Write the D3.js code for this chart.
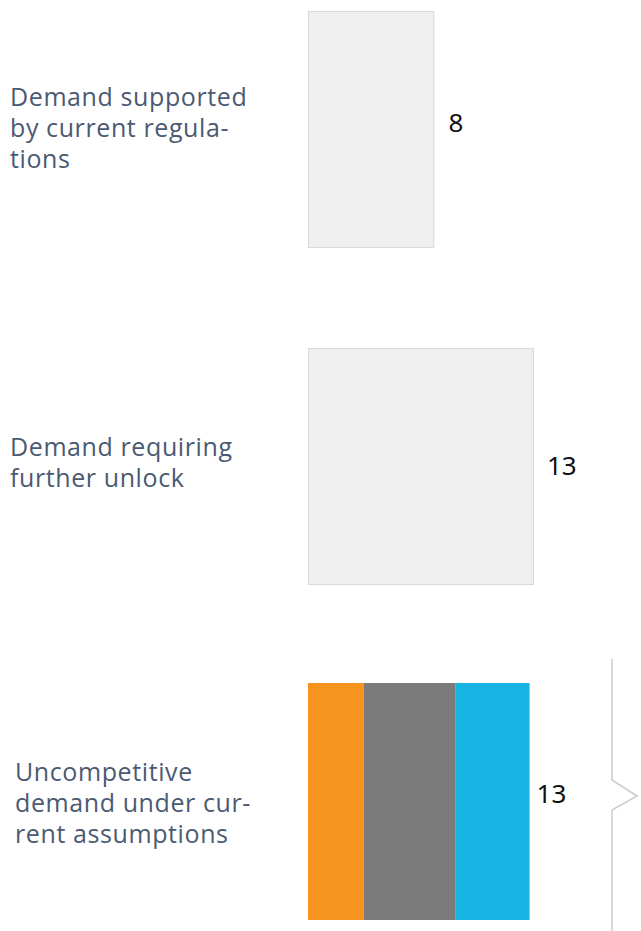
<!DOCTYPE html>
<html>
<head>
<meta charset="utf-8">
<script src="https://cdn.jsdelivr.net/npm/d3@7"></script>
<style>
  body { margin: 0; background: #fff; }
  svg { display: block; }
</style>
</head>
<body>
<script>
// data
const categories = ["Demand supported by current regulations", "Demand requiring further unlock", "Uncompetitive demand under current assumptions"];
const categoryLines = [["Demand supported", "by current regula-", "tions"], ["Demand requiring", "further unlock"], ["Uncompetitive", "demand under cur-", "rent assumptions"]];
const totals = [7.3, 13.1, 12.9];
const valueLabels = ["8", "13", "13"];
const splitSegments = ["a", "b", "c"];
const splitValues = [3.25, 5.35, 4.3];
const splitColors = ["#f7941f", "#7a7b7a", "#17b3e2"];

const W = 641, H = 931;
const svg = d3.select("body").append("svg").attr("width", W).attr("height", H);

const x = d3.scaleLinear().domain([0, 13.1]).range([308, 533]);
const rowTop = [11, 348, 683];
const rowH = 236;
const labelX = [10, 10, 15];
const labelShift = [0, -3, 3];
const labelGap = [15, 14, 7];
const labelDy = [-6, 0, -7];

// grey boxes for the first two rows
svg.selectAll("rect.box")
  .data(totals.slice(0, 2))
  .enter().append("rect")
  .attr("class", "box")
  .attr("x", x(0) + 0.5)
  .attr("y", (d, i) => rowTop[i] + 0.5)
  .attr("width", d => x(d) - x(0))
  .attr("height", rowH)
  .attr("fill", "#efefef")
  .attr("stroke", "#d9d9d9")
  .attr("stroke-width", 1);

// stacked third row
let stack = d3.stack().keys(splitSegments)([Object.fromEntries(splitSegments.map((k, i) => [k, splitValues[i]]))]);
svg.selectAll("rect.seg")
  .data(stack)
  .enter().append("rect")
  .attr("class", "seg")
  .attr("x", d => x(d[0][0]))
  .attr("y", rowTop[2])
  .attr("width", d => x(d[0][1]) - x(d[0][0]))
  .attr("height", rowH + 1)
  .attr("fill", (d, i) => splitColors[i]);

// category labels
categoryLines.forEach((lines, i) => {
  let cy = rowTop[i] + rowH / 2 + labelShift[i];
  let t = svg.append("text")
    .attr("font-family", "'Open Sans', sans-serif")
    .attr("font-size", 25)
    .attr("letter-spacing", 0.6)
    .attr("fill", "#4b5a72");
  lines.forEach((l, j) => {
    t.append("tspan")
      .attr("x", labelX[i])
      .attr("y", cy + (j - (lines.length - 1) / 2) * 31 + 8)
      .text(l);
  });
});

// value labels
svg.selectAll("text.val")
  .data(valueLabels)
  .enter().append("text")
  .attr("class", "val")
  .attr("x", (d, i) => x(totals[i]) + labelGap[i])
  .attr("y", (d, i) => rowTop[i] + rowH / 2 + labelDy[i])
  .attr("dy", "0.35em")
  .attr("font-family", "'Noto Sans', sans-serif")
  .attr("font-size", 26)
  .attr("fill", "#111")
  .text(d => d);

// brace on the right of the last row
const bx = 612, tip = 637, by0 = 659, by1 = 931, mid = 796;
svg.append("path")
  .attr("d", d3.line()([[bx, by0], [bx, mid - 16], [tip, mid], [bx, mid + 14], [bx, by1]]))
  .attr("fill", "none")
  .attr("stroke", "#cccccc")
  .attr("stroke-width", 1.5);
</script>
</body>
</html>
